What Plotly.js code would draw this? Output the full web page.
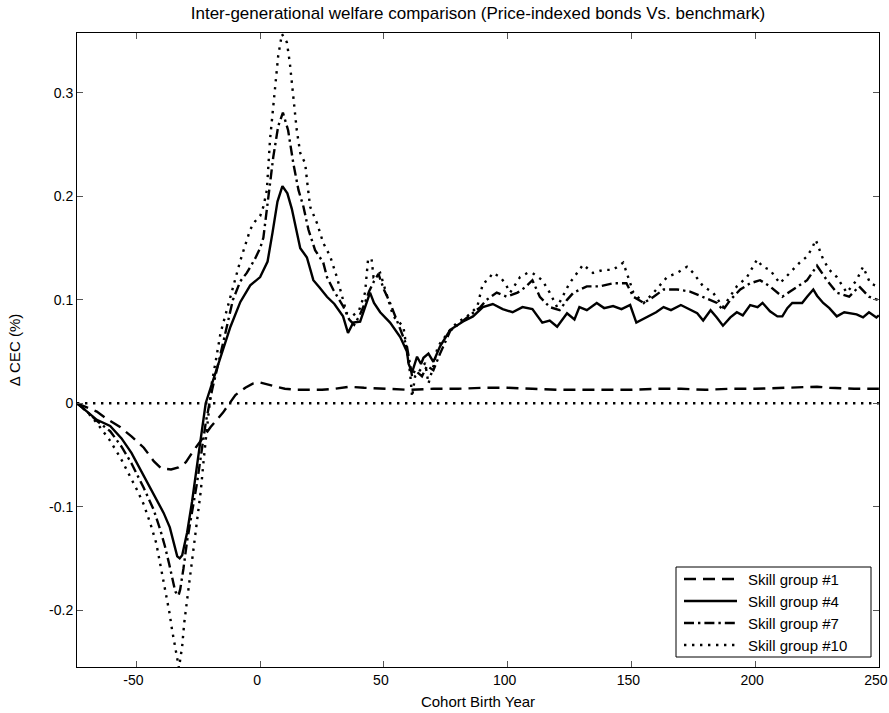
<!DOCTYPE html>
<html>
<head>
<meta charset="utf-8">
<script src="https://cdn.plot.ly/plotly-3.0.1.min.js"></script>
<style>html,body{margin:0;padding:0;background:#fff;}#chart{width:889px;height:713px;}</style>
</head>
<body>
<div id="chart"></div>
<script>
// ---- data: [cohort birth year, delta CEC (%)] ----
const skill1 = [
  [-74,0],[-70,-0.004],[-66,-0.008],[-62,-0.015],[-56.6,-0.023],[-52,-0.032],[-47,-0.043],[-43,-0.056],
  [-40,-0.063],[-36,-0.064],[-33,-0.062],[-30,-0.057],[-26.7,-0.045],[-23,-0.033],[-20,-0.023],[-15,-0.009],
  [-12.5,0],[-10,0.008],[-6,0.015],[-3,0.019],[0,0.020],[5,0.017],[10,0.014],[15,0.013],[20,0.013],[25,0.013],
  [30,0.014],[36,0.016],[42,0.015],[50,0.014],[60,0.013],[70,0.014],[80,0.014],[90,0.015],[100,0.015],
  [110,0.014],[120,0.013],[130,0.013],[140,0.013],[150,0.013],[160,0.014],[170,0.014],[180,0.013],
  [190,0.014],[200,0.014],[210,0.015],[220,0.016],[225,0.016],[230,0.015],[240,0.014],[250,0.014]
];
const skill4 = [
  [-74,0],[-70,-0.008],[-66,-0.016],[-60.6,-0.022],[-56,-0.034],[-52,-0.048],[-47,-0.070],[-43,-0.088],
  [-39,-0.106],[-36.5,-0.120],[-35,-0.135],[-33.5,-0.148],[-32.5,-0.150],[-31.5,-0.147],[-29.5,-0.125],
  [-27.5,-0.095],[-25.5,-0.060],[-23.5,-0.028],[-22,0],[-20,0.015],[-18,0.030],[-16,0.045],[-12,0.074],
  [-8,0.098],[-4,0.114],[0,0.122],[3,0.137],[5,0.165],[7,0.195],[9,0.210],[11,0.203],[12.8,0.188],
  [14.5,0.168],[16.2,0.150],[18.9,0.141],[21.5,0.119],[24,0.112],[27,0.103],[30,0.096],[33.5,0.084],
  [35.5,0.068],[37.6,0.078],[40.4,0.079],[42,0.090],[44.4,0.107],[46,0.097],[48.5,0.088],[52.5,0.078],
  [56.6,0.064],[59.3,0.050],[60,0.038],[61.4,0.030],[63.4,0.045],[65,0.038],[66,0.044],[68,0.048],
  [70,0.040],[72.7,0.055],[76.8,0.071],[82,0.079],[86,0.084],[90,0.093],[94,0.096],[98,0.091],[102,0.088],
  [106,0.093],[110,0.091],[114,0.078],[117,0.080],[120,0.074],[124,0.087],[127,0.081],[129,0.093],
  [132,0.090],[136,0.097],[139,0.092],[142.6,0.094],[146,0.091],[149.5,0.095],[152,0.078],[155,0.082],
  [157.6,0.085],[160,0.088],[163,0.093],[166,0.090],[170,0.095],[173,0.091],[176.6,0.087],[179,0.080],
  [182,0.090],[184.5,0.083],[187,0.075],[190,0.083],[192.6,0.088],[195,0.085],[198,0.095],[201,0.093],
  [203,0.097],[206,0.089],[209,0.084],[211,0.084],[213,0.092],[215,0.097],[219,0.097],[221,0.103],
  [223.5,0.110],[225,0.104],[227.5,0.097],[230,0.092],[233,0.084],[236,0.088],[238,0.087],[241,0.086],
  [243.6,0.083],[246,0.088],[249,0.083],[250,0.085]
];
const skill7 = [
  [-74,0],[-70,-0.008],[-66,-0.017],[-60.6,-0.027],[-56,-0.042],[-52,-0.058],[-47,-0.082],[-43,-0.103],
  [-40.4,-0.122],[-38.5,-0.138],[-36.8,-0.155],[-35.5,-0.170],[-34.3,-0.182],[-33,-0.186],[-32.3,-0.180],
  [-31,-0.160],[-29.5,-0.133],[-27.5,-0.105],[-25.5,-0.077],[-22,-0.019],[-19.4,0.013],[-15,0.058],
  [-11,0.100],[-8,0.118],[-5.4,0.126],[-2,0.140],[0,0.150],[1.3,0.160],[3.2,0.197],[5.3,0.238],
  [7.3,0.268],[9.2,0.281],[11.3,0.264],[13.4,0.232],[15.5,0.206],[17.5,0.190],[19.5,0.168],[22.2,0.148],
  [25.5,0.136],[27,0.122],[29.5,0.110],[31,0.104],[33.5,0.094],[36,0.081],[38,0.076],[40,0.084],
  [42,0.095],[44,0.108],[46,0.118],[47.8,0.125],[50,0.110],[52.5,0.097],[56.6,0.071],[59.3,0.055],
  [61.4,0.026],[62.6,0.032],[65.4,0.026],[67.4,0.036],[70,0.032],[72.7,0.048],[76.8,0.070],[82,0.080],
  [86,0.087],[89,0.093],[91.5,0.100],[95.6,0.107],[99.6,0.103],[104,0.107],[107,0.112],[110,0.119],
  [113,0.103],[117,0.093],[121,0.090],[124,0.100],[126.6,0.107],[132,0.113],[137,0.113],[142.6,0.116],
  [148,0.116],[150.8,0.103],[155,0.097],[159,0.103],[163,0.110],[168.5,0.110],[173.7,0.108],[179,0.103],
  [184.6,0.097],[187,0.090],[190,0.100],[194,0.110],[198,0.116],[202,0.119],[206,0.113],[211,0.103],
  [214,0.108],[217,0.113],[221,0.119],[225,0.133],[229,0.119],[233,0.107],[238,0.103],[242,0.113],
  [246,0.103],[249.5,0.100]
];
const skill10 = [
  [-74,0],[-70,-0.008],[-66,-0.019],[-61,-0.035],[-56.6,-0.052],[-53,-0.068],[-49.7,-0.084],[-47,-0.098],
  [-44.4,-0.116],[-42,-0.135],[-40.4,-0.155],[-39,-0.170],[-37.6,-0.187],[-36.6,-0.203],[-35.6,-0.219],
  [-34.5,-0.234],[-33.5,-0.248],[-32.8,-0.256],[-31.5,-0.235],[-30.7,-0.213],[-29.5,-0.190],[-28.3,-0.168],
  [-27,-0.142],[-25.5,-0.116],[-24,-0.085],[-22.7,-0.052],[-20.6,-0.004],[-19.5,0.020],[-18,0.040],
  [-16,0.068],[-12,0.103],[-8,0.138],[-4,0.168],[-2,0.176],[0,0.181],[1.3,0.190],[2.7,0.206],[3.3,0.226],
  [4,0.255],[5.3,0.287],[6.5,0.313],[7.3,0.336],[8.8,0.357],[10.8,0.349],[12,0.329],[13.4,0.297],
  [14.8,0.264],[16.2,0.242],[18.2,0.232],[18.9,0.216],[20.2,0.190],[23,0.174],[25.5,0.155],[28.3,0.142],
  [31,0.122],[33.5,0.100],[35,0.087],[37.6,0.085],[40,0.090],[42.4,0.107],[43.6,0.139],[45,0.140],
  [45.8,0.122],[48.5,0.126],[51,0.107],[53.8,0.084],[57.9,0.074],[59.3,0.052],[60.6,0.029],[61.4,0.006],
  [62.6,0.026],[64.6,0.032],[66.7,0.039],[68,0.019],[70,0.036],[71.5,0.052],[72.7,0.058],[76.8,0.071],
  [79.6,0.078],[83.6,0.084],[87.7,0.093],[90,0.116],[92,0.119],[94,0.126],[97,0.122],[99,0.116],
  [101,0.107],[105,0.122],[108,0.126],[110,0.126],[114,0.119],[117,0.107],[120,0.093],[125,0.116],
  [130.5,0.134],[134.5,0.126],[138.6,0.129],[142.6,0.129],[146.7,0.136],[148.7,0.122],[150.8,0.107],
  [155,0.097],[159,0.107],[164.4,0.122],[168.5,0.126],[172.5,0.132],[175,0.126],[179,0.113],[183,0.107],
  [187,0.093],[192.6,0.113],[196.7,0.122],[200.8,0.139],[203,0.132],[206,0.129],[210,0.116],[214,0.126],
  [218,0.136],[221,0.142],[223,0.150],[224.5,0.158],[227.5,0.139],[230,0.129],[233,0.122],[237,0.107],
  [241,0.119],[243.6,0.132],[246.5,0.116],[249.5,0.113]
];
const zeroLine = [[-74,0],[250,0]];
const seriesNames = ["Skill group #1","Skill group #4","Skill group #7","Skill group #10"];
const xTickVals = [-50,0,50,100,150,200,250];
const xTickText = ["-50","0","50","100","150","200","250"];
const yTickVals = [-0.2,-0.1,0,0.1,0.2,0.3];
const yTickText = ["-0.2","-0.1","0","0.1","0.2","0.3"];

const FONT = "Arial, 'Liberation Sans', sans-serif";
const W = 2.4;
const DOT = "2.4px,5.6px";
const dashes = ["12px,7px", "solid", "10px,4px,2.4px,4px", DOT];
function tr(data, name, dash, show){
  return {x:data.map(p=>p[0]), y:data.map(p=>p[1]), mode:'lines', name:name, showlegend:show,
    line:{color:'#000', width:W, dash:dash}, hoverinfo:'skip'};
}
const traces = [
  tr(zeroLine, "zero", DOT, false),
  tr(skill1, seriesNames[0], dashes[0], false),
  tr(skill4, seriesNames[1], dashes[1], false),
  tr(skill7, seriesNames[2], dashes[2], false),
  tr(skill10, seriesNames[3], dashes[3], false)
];

// legend box drawn in paper coordinates (pixel helper for the 802x634 plot area)
const PL = 77, PT = 33, PW = 802, PH = 634;
const px = v => (v - PL) / PW;
const py = v => (PT + PH - v) / PH;
const shapes = [{type:'rect', xref:'paper', yref:'paper', x0:px(676), x1:px(871), y0:py(567), y1:py(657),
  fillcolor:'#fff', line:{color:'#000', width:1}, layer:'above'}];
const annotations = [];
const rowY = [579, 601, 623, 645];
seriesNames.forEach((n, i) => {
  shapes.push({type:'line', xref:'paper', yref:'paper', x0:px(684), x1:px(737), y0:py(rowY[i]), y1:py(rowY[i]),
    line:{color:'#000', width:W, dash:dashes[i]}, layer:'above'});
  annotations.push({xref:'paper', yref:'paper', x:px(746), y:py(rowY[i]), xanchor:'left', yanchor:'middle',
    text:n, showarrow:false, font:{family:FONT, size:15, color:'#000'}});
});

const axisCommon = {showline:true, linecolor:'#000', linewidth:1, mirror:'ticks', ticks:'inside',
  ticklen:6, tickcolor:'#555', tickwidth:1, showgrid:false, zeroline:false, ticklabeloverflow:'allow',
  tickfont:{family:FONT, size:14, color:'#000'}};
const layout = {
  width:889, height:713, paper_bgcolor:'#fff', plot_bgcolor:'#fff',
  margin:{l:77, r:10, t:33, b:46},
  title:{text:"Inter-generational welfare comparison (Price-indexed bonds Vs. benchmark)",
    font:{family:FONT, size:17, color:'#000'}, x:0.5, xref:'paper', xanchor:'center', y:0.982, yref:'container', yanchor:'middle'},
  xaxis:Object.assign({}, axisCommon, {range:[-74,250.05], tickvals:xTickVals, ticktext:xTickText, ticklabelshift:-3,
    title:{text:"Cohort Birth Year", font:{family:FONT, size:15, color:'#000'}, standoff:9}}),
  yaxis:Object.assign({}, axisCommon, {range:[-0.255,0.358], tickvals:yTickVals, ticktext:yTickText,
    title:{text:"Δ CEC (%)", font:{family:FONT, size:15, color:'#000'}, standoff:24}}),
  showlegend:false,
  shapes:shapes, annotations:annotations,
  font:{family:FONT}
};
Plotly.newPlot('chart', traces, layout, {displayModeBar:false, staticPlot:true});
</script>
</body>
</html>
